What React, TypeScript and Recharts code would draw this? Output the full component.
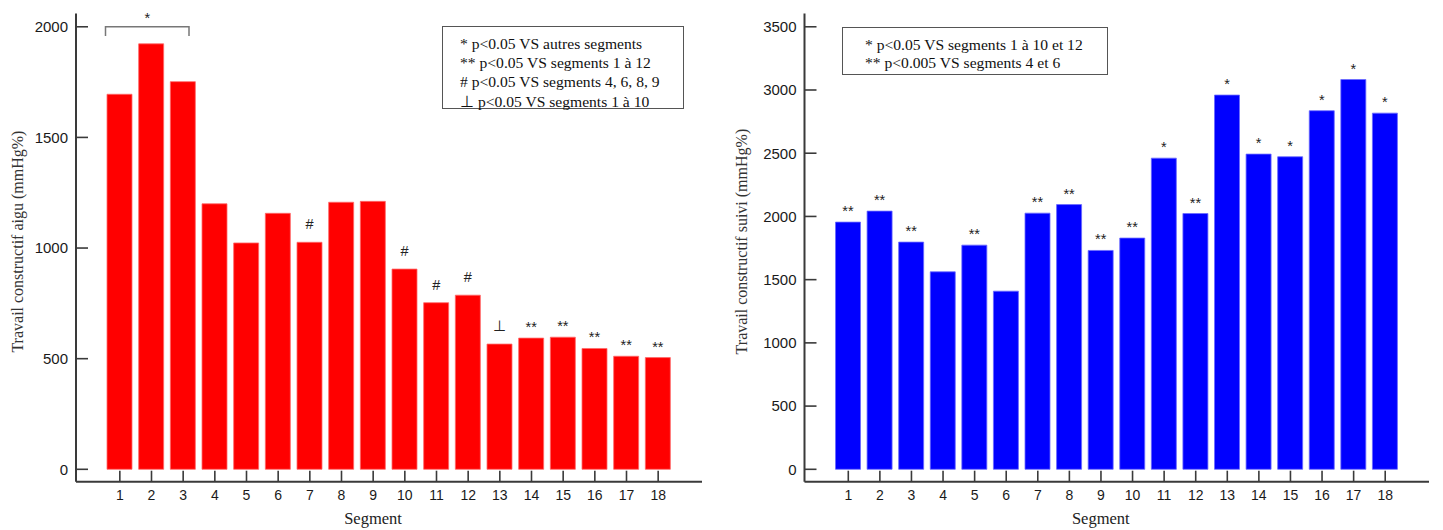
import React from 'react';
import {
  BarChart,
  Bar,
  XAxis,
  YAxis,
  CartesianGrid,
  LabelList,
  ReferenceArea,
} from 'recharts';

// segments 1..18
const segments = [1, 2, 3, 4, 5, 6, 7, 8, 9, 10, 11, 12, 13, 14, 15, 16, 17, 18];

// travail constructif aigu (mmHg%)
const acuteWork = [1695, 1923, 1752, 1200, 1023, 1157, 1026, 1207, 1211, 905, 753, 787, 566, 593, 597, 546, 511, 505];
const acuteMarks = ['', '', '', '', '', '', '#', '', '', '#', '#', '#', '⊥', '**', '**', '**', '**', '**'];
const acuteTicks = [0, 500, 1000, 1500, 2000];
const acuteNotes = [
  '* p<0.05 VS autres segments',
  '** p<0.05 VS segments 1 à 12',
  '# p<0.05 VS segments 4, 6, 8, 9',
  '⊥ p<0.05 VS segments 1 à 10',
];

// travail constructif suivi (mmHg%)
const followWork = [1955, 2042, 1797, 1562, 1773, 1409, 2026, 2094, 1731, 1829, 2461, 2023, 2960, 2493, 2472, 2836, 3083, 2817];
const followMarks = ['**', '**', '**', '', '**', '', '**', '**', '**', '**', '*', '**', '*', '*', '*', '*', '*', '*'];
const followTicks = [0, 500, 1000, 1500, 2000, 2500, 3000, 3500];
const followNotes = [
  '* p<0.05 VS segments 1 à 10 et 12',
  '** p<0.005 VS segments 4 et 6',
];

const SANS = '"Liberation Sans", Arial, sans-serif';
const SERIF = '"Liberation Serif", "Times New Roman", serif';
const AXIS = '#3a3a3a';

const toRows = (values: number[], marks: string[]) =>
  segments.map((seg, i) => ({ seg, value: values[i], mark: marks[i] }));

const YTick = (props: any) => {
  const { x, y, payload } = props;
  return (
    <g>
      <line x1={x} x2={x + 12} y1={y} y2={y} stroke={AXIS} strokeWidth={1.6} />
      <text x={x - 8} y={y + 5.3} textAnchor="end" fontSize={15} fontFamily={SANS} fill="#1a1a1a">
        {payload.value}
      </text>
    </g>
  );
};

const XTick = (props: any) => {
  const { x, y, payload } = props;
  return (
    <g>
      <line x1={x} x2={x} y1={y} y2={y - 11} stroke={AXIS} strokeWidth={1.6} />
      <text x={x} y={y + 18.3} textAnchor="middle" fontSize={14} fontFamily={SANS} fill="#1a1a1a">
        {payload.value}
      </text>
    </g>
  );
};

const renderMark = (props: any) => {
  const { x, y, width, value } = props;
  if (!value) return null;
  const cx = Number(x) + Number(width) / 2;
  const top = Number(y);
  const star = String(value).includes('*');
  const baseline = star ? top - 6 : top - 13;
  const mid = star ? top - 15 : top - 18;
  return (
    <g>
      <rect x={cx - 12} y={mid - 7} width={24} height={14} fill="#fff" />
      <text x={cx} y={baseline} textAnchor="middle" fontSize={14.5} fontFamily={SANS} fill="#222">
        {value}
      </text>
    </g>
  );
};

const bracket = (props: any) => {
  const { x, y, width, height } = props;
  const x1 = x + 1.5;
  const x2 = x + width - 10;
  return (
    <g>
      <path
        d={`M${x1},${y + height} L${x1},${y} L${x2},${y} L${x2},${y + height}`}
        stroke="#777"
        strokeWidth={1.5}
        fill="none"
      />
      <text x={(x1 + x2) / 2} y={y - 4} textAnchor="middle" fontSize={14.5} fontFamily={SANS} fill="#222">
        *
      </text>
    </g>
  );
};

interface SegmentChartProps {
  values: number[];
  marks: string[];
  ticks: number[];
  domain: [number, number];
  fill: string;
  edge: string;
  yLabel: string;
  labelX: number;
  width: number;
  yAxisWidth: number;
  marginRight: number;
  children?: React.ReactNode;
}

function SegmentChart({
  values,
  marks,
  ticks,
  domain,
  fill,
  edge,
  yLabel,
  labelX,
  width,
  yAxisWidth,
  marginRight,
  children,
}: SegmentChartProps) {
  const rows = toRows(values, marks);
  // grid only at the tick values, nothing at the plot edges
  const gridAtTicks = (p: any) => {
    const scale = p?.yAxis?.scale;
    if (typeof scale !== 'function') return [];
    return ticks.map((t) => scale(t));
  };
  return (
    <BarChart
      width={width}
      height={530}
      data={rows}
      margin={{ top: 13.5, right: marginRight, bottom: 0, left: 0 }}
    >
      <CartesianGrid
        vertical={false}
        stroke="#c4c4c4"
        strokeDasharray="1 2"
        horizontalCoordinatesGenerator={gridAtTicks}
      />
      <XAxis
        dataKey="seg"
        type="category"
        height={48.3}
        padding={{ left: 28, right: 28 }}
        tickSize={0}
        tickMargin={0}
        tickLine={false}
        tick={<XTick />}
        axisLine={{ stroke: AXIS, strokeWidth: 2 }}
        interval={0}
        label={{
          content: (p: any) => {
            const vb = p.viewBox;
            return (
              <text
                x={vb.x + vb.width / 2 - 16}
                y={524}
                textAnchor="middle"
                fontSize={16.5}
                fontFamily={SERIF}
                fill="#222"
              >
                Segment
              </text>
            );
          },
        }}
      />
      <YAxis
        type="number"
        domain={domain}
        ticks={ticks}
        width={yAxisWidth}
        tickSize={0}
        tickMargin={0}
        tickLine={false}
        tick={<YTick />}
        axisLine={{ stroke: AXIS, strokeWidth: 2 }}
        label={{
          content: (p: any) => {
            const vb = p.viewBox;
            const cx = vb.x + labelX;
            const cy = vb.y + vb.height / 2 - 6;
            return (
              <text
                x={cx}
                y={cy}
                transform={`rotate(-90, ${cx}, ${cy})`}
                textAnchor="middle"
                dominantBaseline="central"
                fontSize={16}
                fontFamily={SERIF}
                fill="#333"
              >
                {yLabel}
              </text>
            );
          },
        }}
      />
      <Bar dataKey="value" fill={fill} stroke={edge} strokeWidth={0.8} barSize={25} isAnimationActive={false}>
        <LabelList dataKey="mark" content={renderMark} />
      </Bar>
      {children}
    </BarChart>
  );
}

const NoteBox = ({
  notes,
  left,
  top,
  width,
  height,
  lineHeight,
  padTop,
  padLeft,
}: {
  notes: string[];
  left: number;
  top: number;
  width: number;
  height: number;
  lineHeight: number;
  padTop: number;
  padLeft: number;
}) => (
  <div
    style={{
      position: 'absolute',
      left,
      top,
      width,
      height,
      boxSizing: 'border-box',
      border: '1.3px solid #555',
      background: '#fff',
      paddingTop: padTop,
      paddingLeft: padLeft,
      fontFamily: SERIF,
      fontSize: 15.6,
      lineHeight: `${lineHeight}px`,
      color: '#111',
      whiteSpace: 'nowrap',
    }}
  >
    {notes.map((n) => (
      <div key={n}>{n}</div>
    ))}
  </div>
);

export default function App() {
  return (
    <div style={{ position: 'absolute', left: 0, top: 0, width: 1443, height: 530, background: '#fff' }}>
      <div style={{ position: 'absolute', left: 0, top: 0 }}>
        <SegmentChart
          values={acuteWork}
          marks={acuteMarks}
          ticks={acuteTicks}
          domain={[-56, 2060]}
          fill="#ff0000"
          edge="#ff6a6a"
          yLabel="Travail constructif aigu (mmHg%)"
          labelX={18}
          width={720}
          yAxisWidth={76}
          marginRight={18}
        >
          <ReferenceArea x1={1} x2={3} y1={1958} y2={2000} shape={bracket} ifOverflow="visible" />
        </SegmentChart>
      </div>
      <div style={{ position: 'absolute', left: 720, top: 0 }}>
        <SegmentChart
          values={followWork}
          marks={followMarks}
          ticks={followTicks}
          domain={[-98, 3605]}
          fill="#0000ff"
          edge="#6a6aff"
          yLabel="Travail constructif suivi (mmHg%)"
          labelX={22}
          width={723}
          yAxisWidth={84.5}
          marginRight={14}
        />
      </div>
      <NoteBox notes={acuteNotes} left={442} top={26} width={242} height={83} lineHeight={19.2} padTop={7} padLeft={17} />
      <NoteBox notes={followNotes} left={842} top={27} width={266} height={48} lineHeight={18.5} padTop={7.5} padLeft={22} />
    </div>
  );
}
